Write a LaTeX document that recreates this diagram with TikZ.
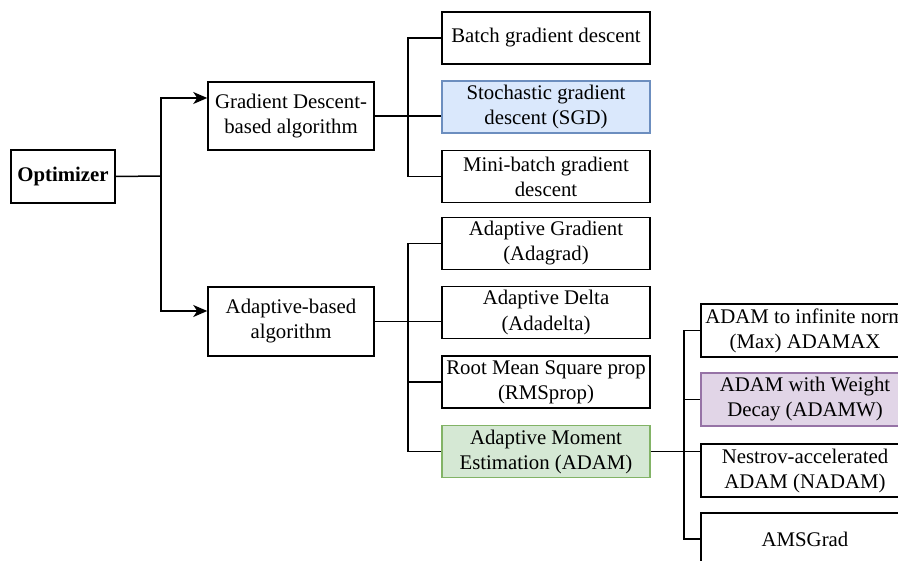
\documentclass[tikz,border=0pt]{standalone}
\usepackage{fontspec}
\setmainfont{LiberationSerif}[Extension=.ttf, UprightFont=*-Regular, BoldFont=*-Bold, ItalicFont=*-Italic, BoldItalicFont=*-BoldItalic]
\usetikzlibrary{arrows.meta}
\definecolor{sgdfill}{HTML}{DAE8FC}\definecolor{sgddraw}{HTML}{6C8EBF}
\definecolor{adamfill}{HTML}{D5E8D4}\definecolor{adamdraw}{HTML}{82B366}
\definecolor{adamwfill}{HTML}{E1D5E7}\definecolor{adamwdraw}{HTML}{9673A6}
\tikzset{
  box/.style={draw=black, line width=1.5pt, align=center, inner sep=1pt,
    font=\rmfamily\fontsize{20.8}{25}\selectfont, minimum width=208pt, minimum height=52pt},
  conn/.style={line width=1.5pt, draw=black},
  arr/.style={conn, -{Stealth[length=14pt,width=12pt,inset=4pt]}},
  blueb/.style={box, fill=sgdfill, draw=sgddraw},
  greenb/.style={box, fill=adamfill, draw=adamdraw},
  purpleb/.style={box, fill=adamwfill, draw=adamwdraw}
}
\begin{document}
\begin{tikzpicture}[x=1pt,y=-1pt]
\fill[white] (0,0) rectangle (898,561);
\useasboundingbox (0,0) rectangle (898,561);
\clip (0,0) rectangle (898,561);

\node[box, minimum width=104pt, minimum height=53pt, font=\rmfamily\fontsize{20.8}{25}\selectfont\bfseries] (opt) at (63,176.5) {Optimizer};
\node[box, minimum width=166pt, minimum height=68pt] (gd) at (291,116) {Gradient Descent-\\based algorithm};
\node[box, minimum width=166pt, minimum height=69pt] (ad) at (291,321.5) {Adaptive-based\\algorithm};

\node[box] (batch) at (546,38) {Batch gradient descent};
\node[blueb] (sgd) at (546,107) {Stochastic gradient\\descent (SGD)};
\node[box] (mini) at (546,176.5) {Mini-batch gradient\\descent};

\node[box] (adagrad) at (546,243.5) {Adaptive Gradient\\(Adagrad)};
\node[box] (adadelta) at (546,312.5) {Adaptive Delta\\(Adadelta)};
\node[box] (rms) at (546,382) {Root Mean Square prop\\(RMSprop)};
\node[greenb] (adam) at (546,451.5) {Adaptive Moment\\Estimation (ADAM)};

\node[box, minimum height=53pt] (adamax) at (805,330.5) {ADAM to infinite norm\\(Max) ADAMAX};
\node[purpleb, minimum height=53pt] (adamw) at (805,399.5) {ADAM with Weight\\Decay (ADAMW)};
\node[box, minimum height=53pt] (nadam) at (805,470.5) {Nestrov-accelerated\\ADAM (NADAM)};
\node[box] (ams) at (805,539) {AMSGrad};

% level 1
\coordinate (j1) at (161,176);
\draw[conn] (opt.east) -- (j1);
\draw[arr] (j1) |- ([yshift=18pt]gd.west);
\draw[arr] (j1) |- ([yshift=10.5pt]ad.west);

% gradient descent group
\coordinate (j2) at (408,116);
\draw[conn] (gd.east) -- (sgd.west |- gd.east);
\draw[conn] (batch.west) -| (j2) |- (mini.west);

% adaptive group
\coordinate (j3) at (408,321.5);
\draw[conn] (ad.east) -- (adadelta.west |- ad.east);
\draw[conn] (adagrad.west) -| (j3) |- (adam.west);
\draw[conn] (j3) |- (rms.west);

% adam group
\coordinate (j4) at (684,451);
\draw[conn] (adam.east) -- (nadam.west |- adam.east);
\draw[conn] (adamax.west) -| (j4) |- (ams.west);
\draw[conn] (j4) |- (adamw.west);
\end{tikzpicture}
\end{document}
